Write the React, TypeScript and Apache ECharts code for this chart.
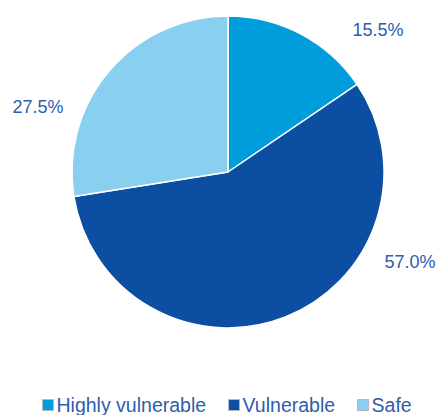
import React, { useEffect, useRef } from "react";
import * as echarts from "echarts";

const categories = ["Highly vulnerable", "Vulnerable", "Safe"];
const values = [15.5, 57.0, 27.5];
const colors = ["#009DDC", "#0B4EA2", "#89CFF0"];
const labelPos = [
  [378, 30],
  [410, 262],
  [38, 107],
];

export default function App() {
  const ref = useRef<HTMLDivElement>(null);
  useEffect(() => {
    const chart = echarts.init(ref.current!, null, { renderer: "svg" });
    chart.setOption({
      animation: false,
      textStyle: { fontFamily: "Liberation Sans, Arial, sans-serif" },
      legend: {
        bottom: -5,
        left: 37,
        itemGap: 22,
        itemWidth: 11,
        itemHeight: 11,
        icon: "rect",
        itemStyle: { borderColor: "#b8b8b8", borderWidth: 1 },
        textStyle: { fontSize: 19.5, color: "#2E5DAE", padding: [0, 0, 0, -2] },
        data: [
          { name: categories[0] },
          { name: categories[1], textStyle: { width: 112 } },
          { name: categories[2] },
        ],
      },
      series: [
        {
          type: "pie",
          center: [228, 172],
          radius: 156,
          startAngle: 90,
          clockwise: true,
          data: categories.map((c, i) => ({
            name: c,
            value: values[i],
            itemStyle: { color: colors[i] },
          })),
          itemStyle: { borderColor: "#ffffff", borderWidth: 1.5 },
          label: {
            show: true,
            position: "outside",
            formatter: (p: any) => p.value.toFixed(1) + "%",
            fontSize: 18,
            color: "#2E5DAE",
          },
          labelLine: { show: false },
          labelLayout: (params: any) => ({
            x: labelPos[params.dataIndex][0],
            y: labelPos[params.dataIndex][1],
            align: "center",
            verticalAlign: "middle",
          }),
        },
      ],
    });
    return () => chart.dispose();
  }, []);
  return <div ref={ref} style={{ width: 446, height: 415, position: "absolute", left: 0, top: 0 }} />;
}
